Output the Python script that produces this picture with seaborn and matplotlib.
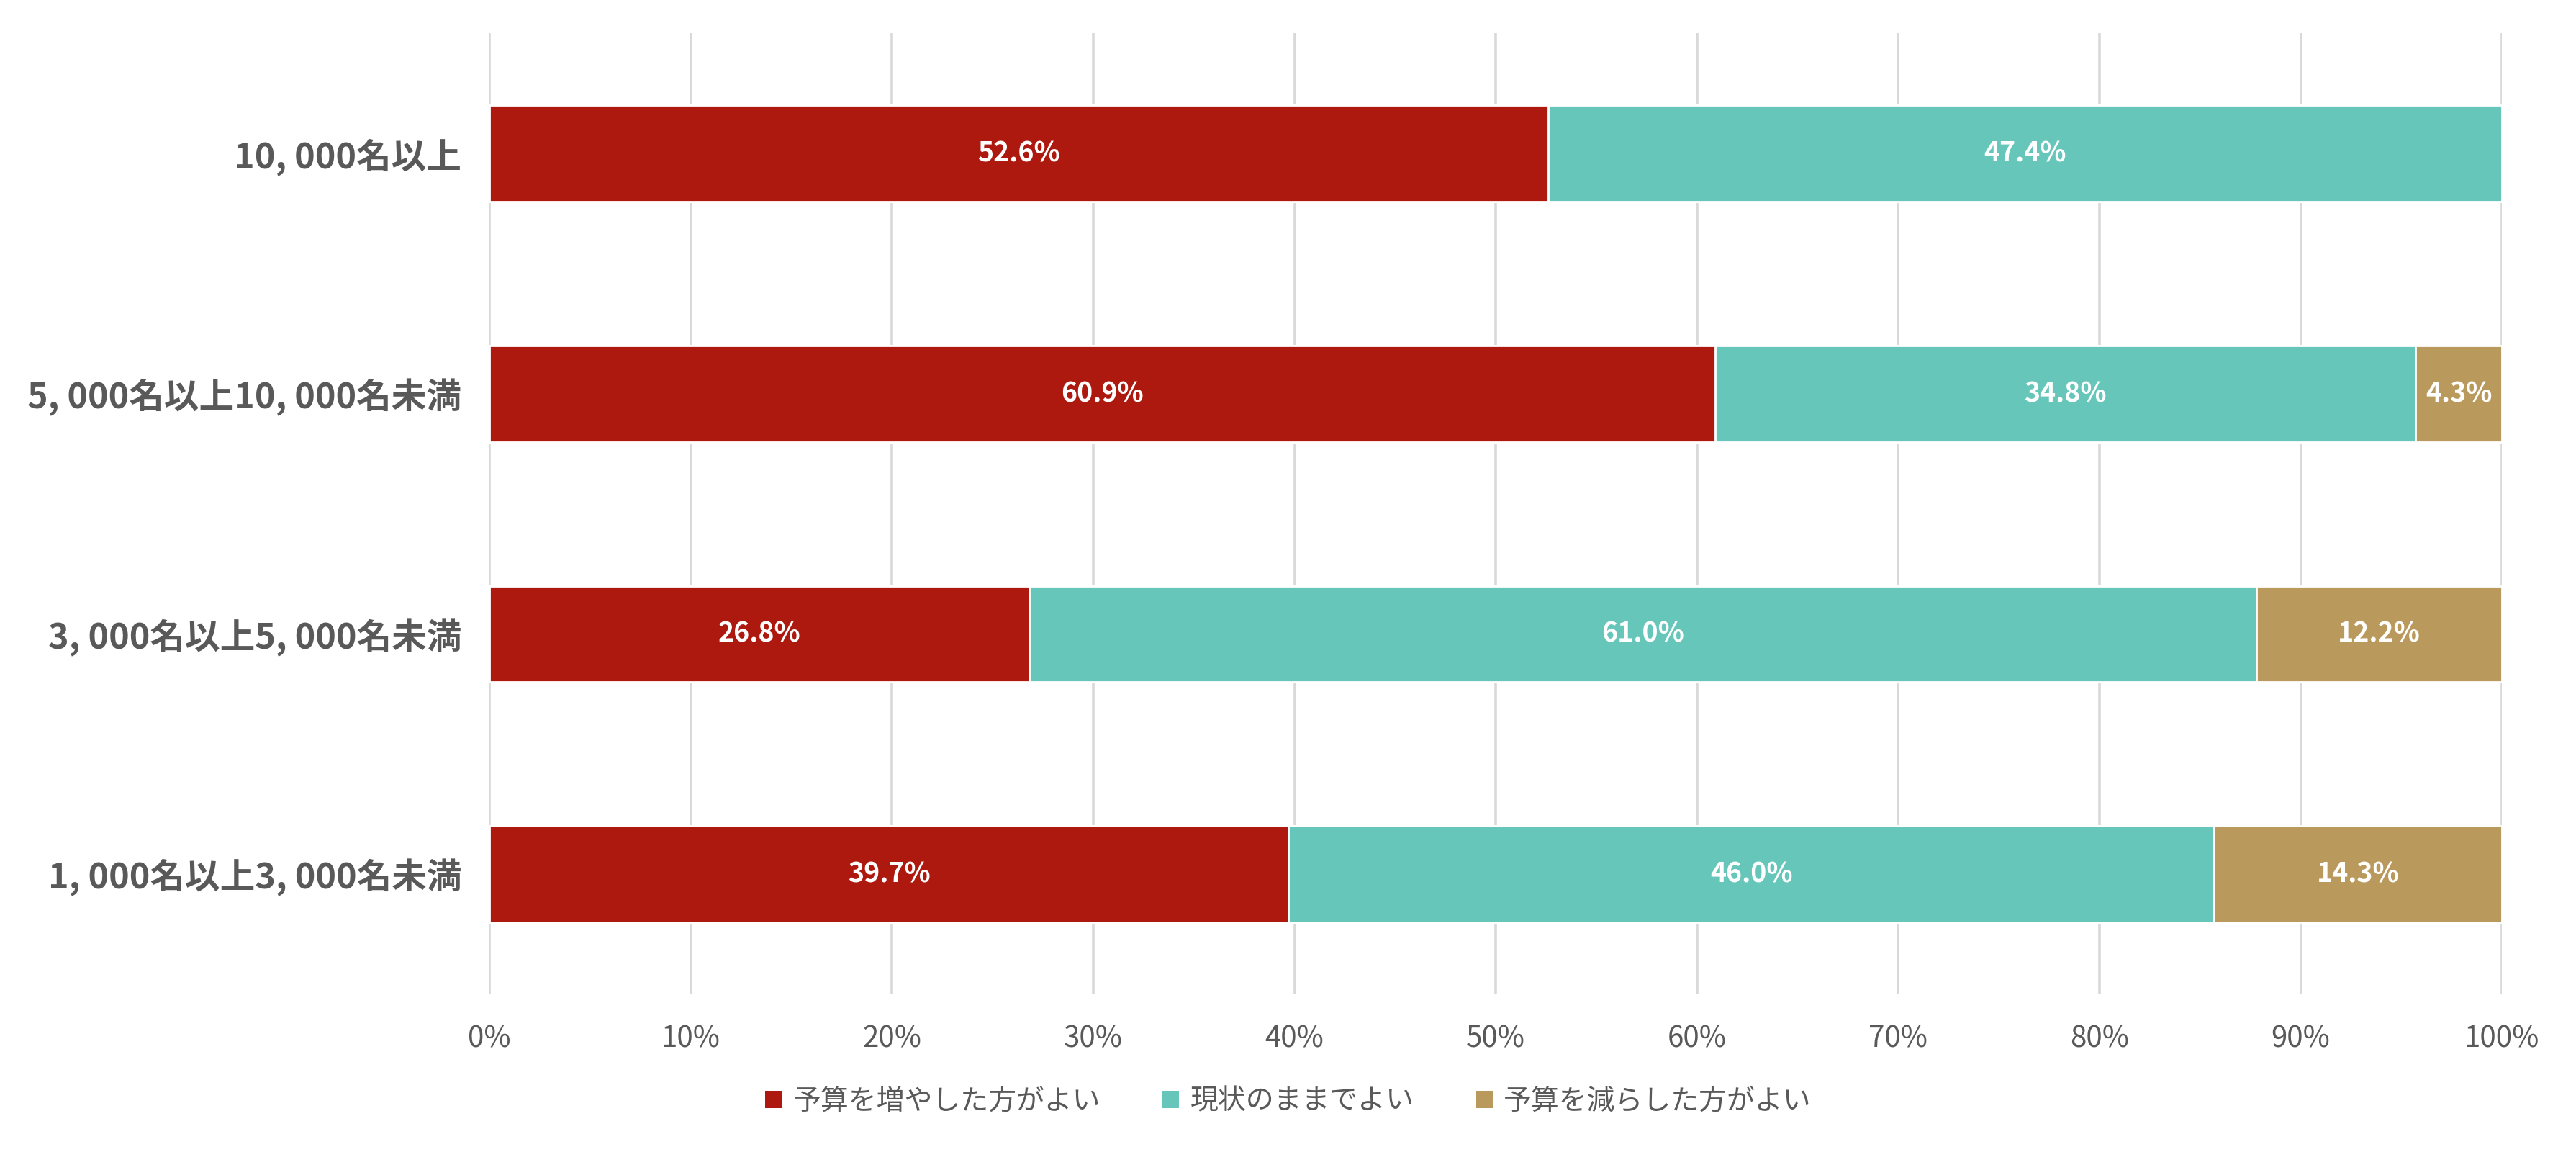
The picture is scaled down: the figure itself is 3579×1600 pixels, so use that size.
import matplotlib
matplotlib.use("Agg")
import matplotlib.pyplot as plt
import seaborn as sns
import pandas as pd
import numpy as np
from matplotlib.patches import Patch

categories = ["10, 000名以上", "5, 000名以上10, 000名未満", "3, 000名以上5, 000名未満", "1, 000名以上3, 000名未満"]
series_names = ["予算を増やした方がよい", "現状のままでよい", "予算を減らした方がよい"]
increase = [52.6, 60.9, 26.8, 39.7]
same = [47.4, 34.8, 61.0, 46.0]
decrease = [0.0, 4.3, 12.2, 14.3]
colors = ["#AD190E", "#67C6BA", "#BA9A5C"]
xticks = [0, 10, 20, 30, 40, 50, 60, 70, 80, 90, 100]

sns.set_theme(style="white")
plt.rcParams['font.family'] = ['Noto Sans CJK JP', 'DejaVu Sans']

fig = plt.figure(figsize=(17.9, 8.0), dpi=200)
ax = fig.add_axes([0.19, 0.137, 0.781, 0.834])

vals = np.array([increase, same, decrease])
cum = np.cumsum(vals, axis=0)
for i in range(2, -1, -1):
    df = pd.DataFrame({"cat": categories, "v": cum[i]})
    sns.barplot(data=df, x="v", y="cat", orient="h", color=colors[i], width=0.4,
                saturation=1, ax=ax, zorder=3)

ax.set_xlim(0, 100)
ax.set_ylim(3.5, -0.5)
ax.set_xticks(xticks)
ax.set_xticklabels([f"{t}%" for t in xticks], color="#595959", fontsize=14.5)
ax.tick_params(axis="x", length=0, pad=15)
ax.tick_params(axis="y", length=0, pad=14)
for lbl in ax.get_yticklabels():
    lbl.set_fontsize(17.5)
    lbl.set_fontweight("bold")
    lbl.set_color("#595959")
ax.set_xlabel("")
ax.set_ylabel("")
ax.grid(axis="x", color="#D9D9D9", linewidth=1.3, zorder=0)
ax.set_axisbelow(True)
for s in ax.spines.values():
    s.set_visible(False)

for i in range(3):
    for j, cat in enumerate(categories):
        v = vals[i][j]
        if v > 0:
            xc = cum[i][j] - v / 2
            ax.text(xc, j, f"{v:.1f}%", ha="center", va="center", color="white",
                    fontsize=13.5, fontweight="bold", zorder=5)

handles = [Patch(facecolor=c, edgecolor="none") for c in colors]
fig.legend(handles, series_names, loc="center", bbox_to_anchor=(0.5, 0.044), ncol=3,
           frameon=False, fontsize=14, labelcolor="#595959", handlelength=0.6,
           handleheight=0.6, handletextpad=0.4, columnspacing=2.2)

fig.savefig("out.png", dpi=200, facecolor="white")
